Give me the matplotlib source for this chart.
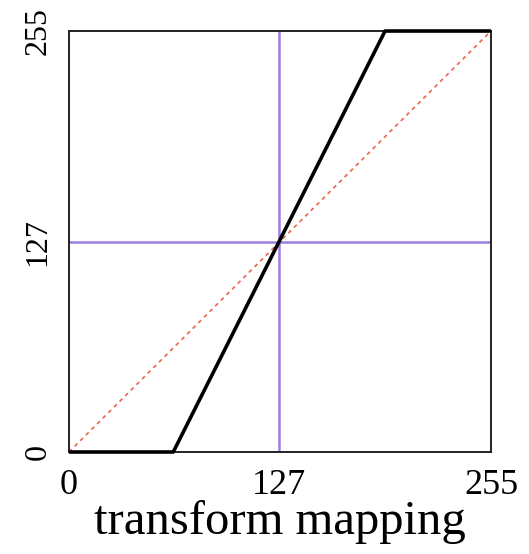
import matplotlib
matplotlib.use("Agg")
import matplotlib.pyplot as plt

# Piecewise-linear contrast stretch: input level -> output level
map_in = [0, 63, 191, 255]
map_out = [0, 0, 255, 255]

# Identity reference
ident_in = [0, 255]
ident_out = [0, 255]

# Mid-level crosshair
mid_level = 127

tick_vals = [0, 127, 255]
tick_labels = ["0", "127", "255"]

plt.rcParams["font.family"] = ["Liberation Serif", "DejaVu Serif"]

fig = plt.figure(figsize=(5.29, 5.54), dpi=100)
ax = fig.add_axes([0.1304, 0.1841, 0.7977, 0.7599])

ax.axvline(mid_level, color="#9b7fe0", lw=1.8, zorder=1)
ax.axhline(mid_level, color="#9b7fe0", lw=1.8, zorder=1)
ax.plot(ident_in, ident_out, color="#e8705a", lw=1.3,
        linestyle=(0, (2.2, 2.2)), zorder=2)
ax.plot(map_in, map_out, color="black", lw=2.6, zorder=3,
        clip_on=False, solid_capstyle="butt")

ax.set_xlim(0, 255)
ax.set_ylim(0, 255)
for s in ax.spines.values():
    s.set_linewidth(1.4)
    s.set_color("#222222")

ax.set_xticks(tick_vals)
ax.set_xticklabels(tick_labels, fontsize=26)
ax.set_yticks(tick_vals)
ax.set_yticklabels(tick_labels, fontsize=23, rotation=90, va="center")
ax.tick_params(axis="x", length=0, pad=12)
ax.tick_params(axis="y", length=0, pad=12)

ax.set_xlabel("transform mapping", fontsize=35)
ax.xaxis.label.set_va("baseline")
ax.xaxis.set_label_coords(0.5, -0.195)

fig.savefig("out.png", dpi=100)
